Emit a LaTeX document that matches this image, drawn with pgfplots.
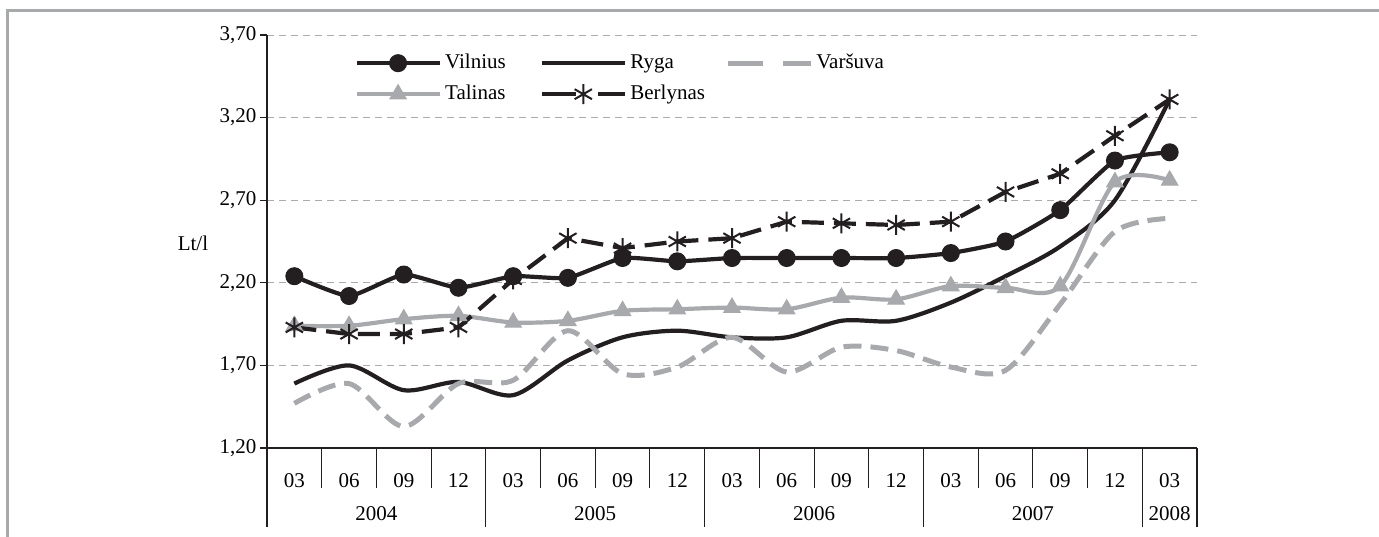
\documentclass[border=0pt]{standalone}
\usepackage{fontspec}
\setmainfont{Liberation Serif}
\usepackage{pgfplots}
\pgfplotsset{compat=1.18}
\usepackage{pgfplotstable}
\definecolor{ink}{HTML}{231F20}
\definecolor{lgray}{HTML}{A7A9AC}
\definecolor{gridc}{HTML}{ABABAB}
\definecolor{framec}{HTML}{A8A9AB}

\pgfplotstableread{
x    vil  ryg  var  tal  ber
0.5  2.24 1.59 1.47 1.94 1.93
1.5  2.12 1.70 1.59 1.94 1.89
2.5  2.25 1.55 1.33 1.98 1.89
3.5  2.17 1.60 1.59 2.00 1.93
4.5  2.24 1.52 1.61 1.96 2.22
5.5  2.23 1.73 1.91 1.97 2.47
6.5  2.35 1.87 1.65 2.03 2.41
7.5  2.33 1.91 1.69 2.04 2.45
8.5  2.35 1.87 1.87 2.05 2.47
9.5  2.35 1.87 1.66 2.04 2.57
10.5 2.35 1.97 1.81 2.11 2.56
11.5 2.35 1.97 1.79 2.10 2.55
12.5 2.38 2.08 1.69 2.18 2.57
13.5 2.45 2.24 1.67 2.17 2.75
14.5 2.64 2.42 2.07 2.18 2.86
15.5 2.94 2.70 2.51 2.81 3.09
16.5 2.99 3.31 2.59 2.82 3.31
}\data

\begin{document}
\begin{tikzpicture}[font=\fontsize{21}{25}\selectfont]
\useasboundingbox (0pt,0pt) rectangle (1379pt,536pt);
\draw[framec, line width=3pt] (7.5pt,-5pt) -- (7.5pt,525.5pt) -- (1390pt,525.5pt);
\begin{axis}[
  at={(267pt,88pt)}, anchor=south west,
  width=930pt, height=413pt, scale only axis,
  xmin=0, xmax=17, ymin=1.2, ymax=3.7,
  ytick={1.2,1.7,2.2,2.7,3.2,3.7},
  yticklabel style={/pgf/number format/.cd, fixed, fixed zerofill, precision=2, use comma, assume math mode=true},
  ymajorgrids, grid style={gridc, dash pattern=on 7pt off 5pt, line width=0.9pt},
  axis x line*=bottom, axis y line*=left,
  axis line style={ink, line width=1.1pt, -},
  xtick={0.5,1.5,...,16.5},
  xticklabels={03,06,09,12,03,06,09,12,03,06,09,12,03,06,09,12,03},
  x tick style={draw=none},
  y tick style={ink, line width=1.1pt},
  tick align=outside, major tick length=7pt,
  xticklabel style={anchor=base, yshift=-32pt},
  tick label style={font=\fontsize{21}{25}\selectfont},
  ylabel={Lt/l},
  ylabel style={rotate=-90, at={(axis description cs:-0.0796,0.496)}, anchor=center, font=\fontsize{21}{25}\selectfont},
  legend columns=3,
  legend cell align=left,
  legend style={at={(axis description cs:0.0946,0.956)}, anchor=north west, draw=none, fill=none,
    inner sep=0pt, outer sep=0pt, row sep=11pt,
    font=\fontsize{21}{25}\selectfont,
    nodes={inner sep=0pt, text height=15pt, text depth=5pt},
    /tikz/every odd column/.style={column sep=3pt}},
  legend image code/.code={\draw[mark repeat=2,mark phase=2,#1] plot coordinates {(0pt,0pt) (41pt,0pt) (83pt,0pt)};},
]
\addlegendimage{ink, line width=4.2pt, mark=*, mark size=8.5pt, mark options={line width=1pt}}
\addlegendentry{\makebox[95pt][l]{Vilnius}}
\addlegendimage{ink, line width=4.2pt}
\addlegendentry{\makebox[95pt][l]{Ryga}}
\addlegendimage{lgray, line width=5pt, dash pattern=on 35pt off 20pt}
\addlegendentry{Varšuva}
\addlegendimage{lgray, line width=4.2pt, mark=triangle*, mark size=9.5pt, mark options={line width=1pt}}
\addlegendentry{\makebox[95pt][l]{Talinas}}
\addlegendimage{ink, line width=4.2pt, dash pattern=on 34pt off 22pt, mark=asterisk, mark size=10pt, mark options={solid, line width=2pt}}
\addlegendentry{Berlynas}

\addplot[forget plot, ink, line width=4.2pt, smooth, tension=0.3, mark=*, mark size=8.5pt, mark options={line width=1pt}] table[x=x, y=vil]{\data};
\addplot[forget plot, ink, line width=4.2pt, smooth] table[x=x, y=ryg]{\data};
\addplot[forget plot, lgray, line width=5pt, smooth, dash pattern=on 18pt off 9pt] table[x=x, y=var]{\data};
\addplot[forget plot, lgray, line width=4.2pt, smooth, mark=triangle*, mark size=9.5pt, mark options={solid, line width=1pt}] table[x=x, y=tal]{\data};
\addplot[forget plot, ink, line width=4.2pt, dash pattern=on 22pt off 10pt, mark=asterisk, mark size=10pt, mark options={solid, line width=2pt}] table[x=x, y=ber]{\data};
\end{axis}
\foreach \k in {1,2,3,5,6,7,9,10,11,13,14,15}
  \draw[ink, line width=1.1pt] ({(267+\k*930/17)*1pt},88pt) -- ++(0pt,-40pt);
\foreach \k in {0,4,8,12,16,17}
  \draw[ink, line width=1.1pt] ({(267+\k*930/17)*1pt},88pt) -- ++(0pt,-79pt);
\node[anchor=base] at ({(267+2*930/17)*1pt},16pt) {2004};
\node[anchor=base] at ({(267+6*930/17)*1pt},16pt) {2005};
\node[anchor=base] at ({(267+10*930/17)*1pt},16pt) {2006};
\node[anchor=base] at ({(267+14*930/17)*1pt},16pt) {2007};
\node[anchor=base] at ({(267+16.5*930/17)*1pt},16pt) {2008};
\end{tikzpicture}
\end{document}
